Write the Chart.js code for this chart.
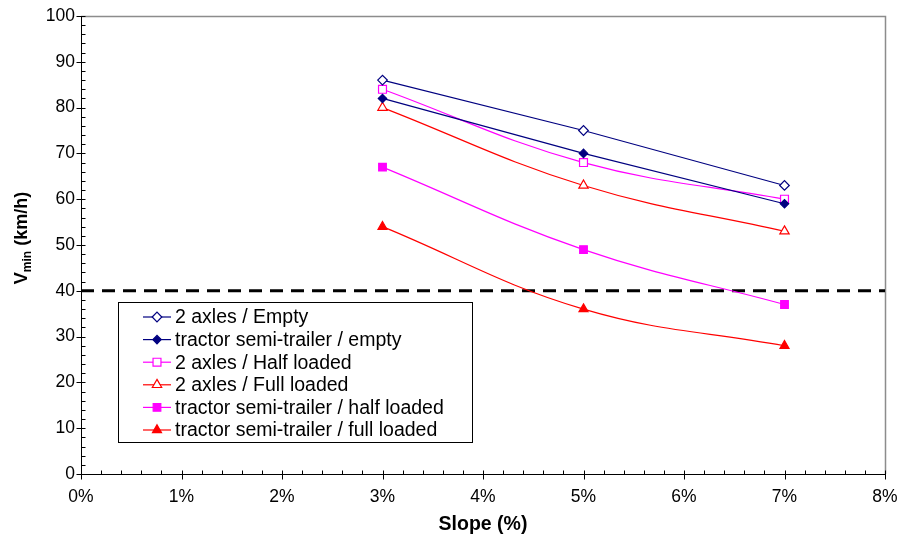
<!DOCTYPE html>
<html>
<head>
<meta charset="utf-8">
<script src="https://cdn.jsdelivr.net/npm/chart.js@4.4.0/dist/chart.umd.min.js"></script>
<style>
  html, body { margin: 0; padding: 0; background: #fff; }
  #c { display: block; }
</style>
</head>
<body>
<canvas id="c" width="900" height="541"></canvas>
<script>
// Slope values (%) at which each vehicle configuration was evaluated
const slopes = [3, 5, 7];

// Minimum speed (km/h) per configuration
const axles2Empty   = [86, 75, 63];
const tractorEmpty  = [82, 70, 59];
const axles2Half    = [84, 68, 60];
const axles2Full    = [80, 63, 53];
const tractorHalf   = [67, 49, 37];
const tractorFull   = [54, 36, 28];

const seriesNames = [
  '2 axles / Empty',
  'tractor semi-trailer / empty',
  '2 axles / Half loaded',
  '2 axles / Full loaded',
  'tractor semi-trailer / half loaded',
  'tractor semi-trailer / full loaded'
];

// Axis ranges and tick labels
const xTickValues = [0, 1, 2, 3, 4, 5, 6, 7, 8];
const xTickLabels = ['0%', '1%', '2%', '3%', '4%', '5%', '6%', '7%', '8%'];
const yTickValues = [0, 10, 20, 30, 40, 50, 60, 70, 80, 90, 100];

// Reference speed limit drawn as a dashed line
const thresholdSpeed = 40;

const NAVY = '#000080', MAGENTA = '#FF00FF', RED = '#FF0000';
const FONT = '"Liberation Sans", Arial, sans-serif';

const toPoints = vals => slopes.map((s, i) => ({ x: s, y: vals[i] }));

function series(label, vals, color, style, radius, filled, tension) {
  return {
    label,
    data: toPoints(vals),
    borderColor: color,
    borderWidth: 1.2,
    backgroundColor: color,
    pointStyle: style,
    pointRadius: radius,
    pointHoverRadius: radius,
    pointBorderColor: color,
    pointBackgroundColor: filled ? color : '#FFFFFF',
    pointBorderWidth: 1.2,
    tension: tension,
    fill: false
  };
}

const datasets = [
  series(seriesNames[0], axles2Empty,  NAVY,    'rectRot',  4.8, false, 0),
  series(seriesNames[1], tractorEmpty, NAVY,    'rectRot',  4.2, true,  0),
  series(seriesNames[2], axles2Half,   MAGENTA, 'rect',     5.6, false, 0.4),
  series(seriesNames[3], axles2Full,   RED,     'triangle', 5.4, false, 0.4),
  series(seriesNames[4], tractorHalf,  MAGENTA, 'rect',     5.4, true,  0.4),
  series(seriesNames[5], tractorFull,  RED,     'triangle', 5.2, true,  0.4),
  {
    label: 'limit',
    data: [{ x: xTickValues[0], y: thresholdSpeed }, { x: xTickValues[xTickValues.length - 1], y: thresholdSpeed }],
    borderColor: '#000000',
    borderWidth: 3,
    borderDash: [13, 8],
    pointRadius: 0,
    pointHoverRadius: 0,
    tension: 0,
    fill: false
  }
];

// Plot frame: grey top/right border, black axes with major and minor tick marks
const framePlugin = {
  id: 'frame',
  beforeDatasetsDraw(chart) {
    const { ctx, chartArea: a, scales: { x, y } } = chart;
    ctx.save();
    ctx.strokeStyle = '#8C8C8C';
    ctx.lineWidth = 1.5;
    ctx.beginPath();
    ctx.moveTo(a.left, a.top + 0.5);
    ctx.lineTo(a.right + 0.5, a.top + 0.5);
    ctx.lineTo(a.right + 0.5, a.bottom);
    ctx.stroke();

    ctx.strokeStyle = '#000000';
    ctx.lineWidth = 1;
    ctx.beginPath();
    const ax = Math.round(a.left) + 0.5;
    const ay = Math.round(a.bottom) + 0.5;
    ctx.moveTo(ax, a.top);
    ctx.lineTo(ax, ay);
    ctx.lineTo(a.right + 1, ay);

    // y ticks: majors cross the axis, minors inside
    for (let v = 0; v <= 100; v += 2) {
      const py = Math.round(y.getPixelForValue(v)) + 0.5;
      if (v % 10 === 0) { ctx.moveTo(ax - 5, py); ctx.lineTo(ax + 4, py); }
      else { ctx.moveTo(ax, py); ctx.lineTo(ax + 4, py); }
    }
    // x ticks: majors cross the axis, minors inside
    for (let k = 0; k <= 40; k++) {
      const px = Math.round(x.getPixelForValue(k * 0.2)) + 0.5;
      if (k % 5 === 0) { ctx.moveTo(px, ay - 4); ctx.lineTo(px, ay + 5); }
      else { ctx.moveTo(px, ay); ctx.lineTo(px, ay - 4); }
    }
    ctx.stroke();
    ctx.restore();
  }
};

// Axis titles and the boxed legend
const annotatePlugin = {
  id: 'annotate',
  afterDraw(chart) {
    const { ctx, chartArea: a } = chart;
    ctx.save();
    ctx.fillStyle = '#000000';

    // x-axis title
    ctx.font = `bold 19.5px ${FONT}`;
    ctx.textAlign = 'center';
    ctx.textBaseline = 'middle';
    ctx.fillText('Slope (%)', (a.left + a.right) / 2, 525);

    // y-axis title with subscript
    const big = `bold 18px ${FONT}`, small = `bold 12px ${FONT}`;
    ctx.font = big; const wV = ctx.measureText('V').width;
    ctx.font = small; const wSub = ctx.measureText('min').width;
    ctx.font = big; const wRest = ctx.measureText(' (km/h)').width;
    const total = wV + wSub + wRest;
    ctx.translate(27, 238);
    ctx.rotate(-Math.PI / 2);
    ctx.textAlign = 'left';
    ctx.textBaseline = 'alphabetic';
    let cx = -total / 2;
    ctx.font = big; ctx.fillText('V', cx, 0); cx += wV;
    ctx.font = small; ctx.fillText('min', cx, 4); cx += wSub;
    ctx.font = big; ctx.fillText(' (km/h)', cx, 0);
    ctx.restore();

    // legend box
    ctx.save();
    const bx = 118.5, by = 302.5, bw = 354, bh = 140;
    ctx.fillStyle = '#FFFFFF';
    ctx.fillRect(bx, by, bw, bh);
    ctx.strokeStyle = '#000000';
    ctx.lineWidth = 1;
    ctx.strokeRect(bx, by, bw, bh);
    ctx.font = `19.5px ${FONT}`;
    ctx.textAlign = 'left';
    ctx.textBaseline = 'middle';
    for (let i = 0; i < seriesNames.length; i++) {
      const ds = chart.data.datasets[i];
      const ry = 317 + i * 22.6;
      ctx.strokeStyle = ds.borderColor;
      ctx.lineWidth = 1.2;
      ctx.beginPath();
      ctx.moveTo(143, ry);
      ctx.lineTo(171, ry);
      ctx.stroke();
      ctx.fillStyle = ds.pointBackgroundColor;
      ctx.strokeStyle = ds.pointBorderColor;
      ctx.lineWidth = ds.pointBorderWidth;
      Chart.helpers.drawPoint(ctx, { pointStyle: ds.pointStyle, radius: ds.pointRadius, borderWidth: ds.pointBorderWidth, rotation: 0 }, 157, ry);
      ctx.fillStyle = '#000000';
      ctx.fillText(seriesNames[i], 175, ry + 1);
    }
    ctx.restore();
  }
};

new Chart(document.getElementById('c'), {
  type: 'line',
  data: { datasets },
  options: {
    responsive: false,
    animation: false,
    devicePixelRatio: 1,
    layout: { padding: { top: 16, right: 15, left: 0, bottom: 0 } },
    plugins: { legend: { display: false }, tooltip: { enabled: false } },
    scales: {
      x: {
        type: 'linear',
        min: xTickValues[0],
        max: xTickValues[xTickValues.length - 1],
        afterBuildTicks: s => { s.ticks = xTickValues.map(v => ({ value: v })); },
        ticks: {
          callback: (v) => xTickLabels[xTickValues.indexOf(v)],
          color: '#000000',
          font: { family: FONT, size: 17.5 },
          padding: 7,
          maxRotation: 0,
          autoSkip: false
        },
        grid: { display: true, drawOnChartArea: false, drawTicks: true, tickLength: 6, color: 'rgba(0,0,0,0)' },
        border: { display: false },
        afterFit: s => { s.height = 67; s.paddingLeft = 0; s.paddingRight = 0; }
      },
      y: {
        type: 'linear',
        min: yTickValues[0],
        max: yTickValues[yTickValues.length - 1],
        afterBuildTicks: s => { s.ticks = yTickValues.map(v => ({ value: v })); },
        ticks: {
          color: '#000000',
          font: { family: FONT, size: 17.5 },
          padding: 2,
          autoSkip: false
        },
        grid: { display: true, drawOnChartArea: false, drawTicks: true, tickLength: 4, color: 'rgba(0,0,0,0)' },
        border: { display: false },
        afterFit: s => { s.width = 81; s.paddingTop = 0; s.paddingBottom = 0; }
      }
    }
  },
  plugins: [framePlugin, annotatePlugin]
});
</script>
</body>
</html>
